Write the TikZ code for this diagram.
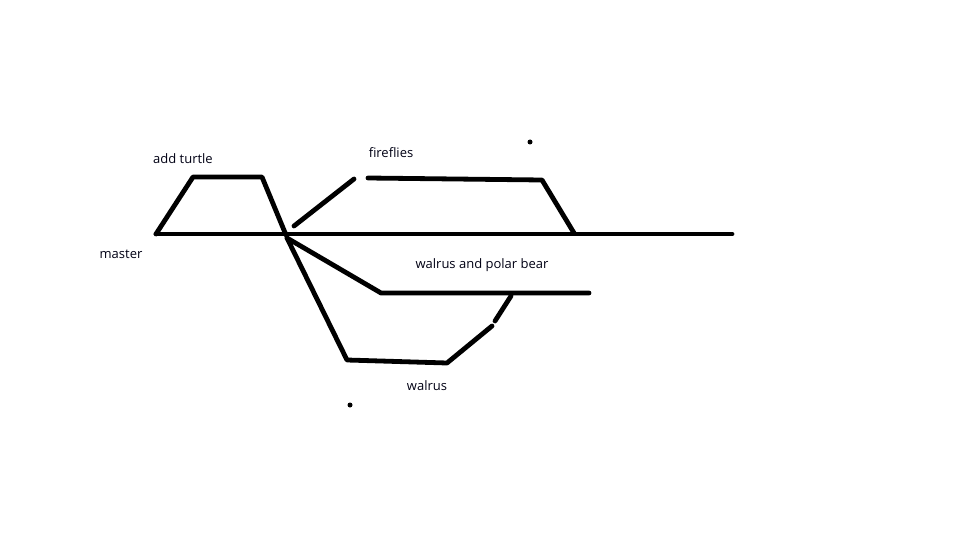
\documentclass[tikz,border=0pt]{standalone}
\usepackage{fontspec}
\setmainfont{Open Sans}
\begin{document}
\begin{tikzpicture}[x=1pt,y=-1pt,
  stroke/.style={line width=4.8pt,line cap=round,line join=round,black},
  lbl/.style={font=\fontsize{13}{15}\selectfont,text=black!92!blue,inner sep=0pt},
  spot/.style={fill=black,circle,inner sep=0pt,minimum size=5pt}]
\useasboundingbox[fill=white] (0,0) rectangle (960,540);
% master line
\coordinate (m0) at (156,234);
\coordinate (m1) at (732,234);
\coordinate (split) at (286,235);
% add turtle
\coordinate (t1) at (193,177);
\coordinate (t2) at (262,177);
% fireflies
\coordinate (f0) at (294,226);
\coordinate (f1) at (354,179);
\coordinate (f2) at (368,178);
\coordinate (f3) at (455,179);
\coordinate (f4) at (542,180);
\coordinate (f5) at (574,233);
% walrus and polar bear
\coordinate (w0) at (287,238);
\coordinate (w1) at (381,293);
\coordinate (w2) at (589,293);
% walrus
\coordinate (v1) at (347,360);
\coordinate (v2) at (447,363);
\coordinate (v3) at (492,326);
\coordinate (v4) at (495,321);
\coordinate (v5) at (511,296);

\draw[stroke] (m0) -- (m1);
\draw[stroke] (m0) -- (t1) -- (t2) -- (split);
\draw[stroke] (f0) -- (f1);
\draw[stroke] (f2) -- (f3) -- (f4) -- (f5);
\draw[stroke] (w0) -- (w1) -- (w2);
\draw[stroke] (w0) -- (v1) -- (v2) -- (v3);
\draw[stroke] (v4) -- (v5);

\node[spot] (d1) at (530,142) {};
\node[spot] (d2) at (350,405) {};

\node[lbl] (lt) at (183,159) {add turtle};
\node[lbl] (lm) at (121,254) {master};
\node[lbl] (lf) at (391,153) {fireflies};
\node[lbl] (lw) at (482,265) {walrus and polar bear};
\node[lbl] (lwa) at (427,386) {walrus};
\end{tikzpicture}
\end{document}
